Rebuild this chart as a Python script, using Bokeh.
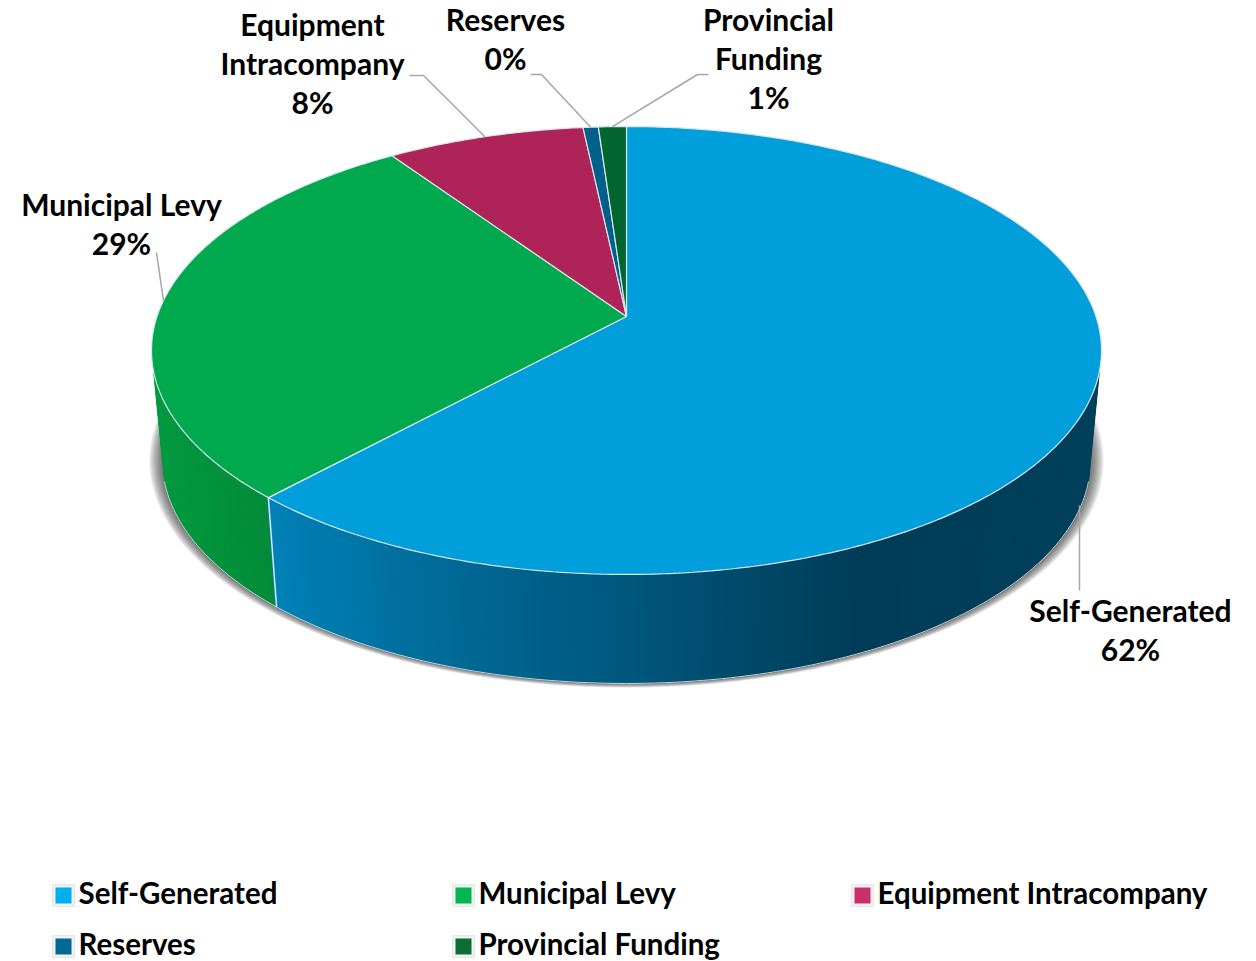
import math
from bokeh.plotting import figure
from bokeh.models import Range1d, ColumnDataSource
from bokeh.core.properties import value
from bokeh.embed import file_html
from bokeh.resources import INLINE

categories = ["Self-Generated", "Municipal Levy", "Equipment Intracompany", "Reserves", "Provincial Funding"]
shares = [61.85, 28.65, 7.8, 0.6, 1.1]
percent_labels = ["62%", "29%", "8%", "0%", "1%"]
label_lines = [["Self-Generated"], ["Municipal Levy"], ["Equipment", "Intracompany"], ["Reserves"], ["Provincial", "Funding"]]

top_colors = ["#009edb", "#00a94e", "#ae2459", "#00608a", "#026530"]
legend_colors = ["#00adef", "#00b74f", "#c7306a", "#006a94", "#0a6e38"]

W, H = 1256, 961
OX, OY = 0, 0
FONT = "Lato"
FS = "30px"

CX, AY = 626.0, 316.0
A, B, K = 469.5, 218.8, -0.1518
BOT_SX, BOT_SY, BOT_Y = 0.977, 0.995, 426.3


def rim(t, bottom=False):
    """t in degrees clockwise from the top of the pie; perspective projected rim."""
    r = math.radians(t)
    u, v = math.sin(r), -math.cos(r)
    d = 1 + K * v
    x, y = A * u / d, B * v / d
    if bottom:
        return CX + x * BOT_SX, BOT_Y + y * BOT_SY
    return CX + x, AY + y


def lerp_color(stops, x):
    if x <= stops[0][0]:
        return stops[0][1]
    for (x0, c0), (x1, c1) in zip(stops, stops[1:]):
        if x <= x1:
            f = (x - x0) / (x1 - x0)
            a = [int(c0[i:i + 2], 16) for i in (1, 3, 5)]
            b = [int(c1[i:i + 2], 16) for i in (1, 3, 5)]
            return "#%02x%02x%02x" % tuple(round(p + (q - p) * f) for p, q in zip(a, b))
    return stops[-1][1]


BLUE_STOPS = [(270, "#0081b8"), (420, "#006d9c"), (620, "#00577d"), (860, "#003c58"), (1100, "#003f5a")]
GREEN_STOPS = [(155, "#029a40"), (275, "#038a38")]

p = figure(width=W, height=H, x_range=Range1d(OX, OX + W), y_range=Range1d(OY + H, OY),
           output_backend="svg", toolbar_location=None, min_border=0)
p.axis.visible = False
p.grid.visible = False
p.outline_line_color = None

# cumulative angles
edges = [0.0]
for s in shares:
    edges.append(edges[-1] + s * 3.6)

# soft shadow under the side wall
for d in range(1, 13):
    xs, ys = [], []
    for i in range(0, 361, 2):
        x, y = rim(i, True)
        xs.append(CX + (x - CX) * (1 + d * 1.1 / 464))
        ys.append(BOT_Y + 34 + (y - BOT_Y - 34) * (1 + d * 0.35 / 223))
    p.patch(xs, ys, fill_color="#303030", fill_alpha=0.08, line_color=None)

# side wall, as narrow strips shaded by horizontal position
T_R, T_L = 104.0, 256.0
step = 1.0
wx, wy, wc = [], [], []
t = T_R
while t < T_L:
    t2 = min(t + step, T_L)
    tx1, ty1 = rim(t)
    tx2, ty2 = rim(t2)
    bx1, by1 = rim(t, True)
    bx2, by2 = rim(t2, True)
    mid = (t + t2) / 2
    xm = (tx1 + tx2 + bx1 + bx2) / 4
    col = lerp_color(BLUE_STOPS, xm) if mid < edges[1] else lerp_color(GREEN_STOPS, xm)
    wx.append([tx1, tx2, bx2, bx1])
    wy.append([ty1, ty2, by2, by1])
    wc.append(col)
    t = t2
p.patches("x", "y", source=ColumnDataSource(dict(x=wx, y=wy, c=wc)), fill_color="c", line_color="c", line_width=1)

# light edge along the bottom of the wall and the boundary between the walls
bpts = [rim(T_R + i * (T_L - T_R) / 150, True) for i in range(151)]
p.line([a for a, _ in bpts], [b for _, b in bpts], line_color="#c9d3d8", line_width=1)
s0 = rim(edges[1])
s1 = rim(edges[1], True)
p.line([s0[0], s1[0]], [s0[1], s1[1]], line_color="#d9e6ec", line_width=1.5)

# top face
fx, fy = [], []
for a0, a1 in zip(edges, edges[1:]):
    n = max(2, int((a1 - a0) * 2))
    pts = [rim(a0 + (a1 - a0) * i / n) for i in range(n + 1)]
    fx.append([CX] + [q[0] for q in pts])
    fy.append([AY] + [q[1] for q in pts])
p.patches("x", "y", source=ColumnDataSource(dict(x=fx, y=fy, c=top_colors)),
          fill_color="c", line_color="#d8e6ec", line_width=1.2)

# leader lines: from the rim at each slice's mid angle to its label
mids = [(a0 + a1) / 2 for a0, a1 in zip(edges, edges[1:])]
elbows = [
    [(1079, 590)],
    [(156, 252)],
    [(423, 75), (409, 75)],
    [(541, 74), (530, 74)],
    [(697, 74), (708, 74)],
]
starts = [(1079, 505), rim(mids[1]), rim(mids[2]), rim(mids[3]), rim(mids[4])]
for st, el in zip(starts, elbows):
    pts = [st] + el
    p.line([q[0] for q in pts], [q[1] for q in pts], line_color="#a6a6a6", line_width=1.5)

# labels: (centre x, y of first line)
label_pos = [(1130, 609), (121, 203), (312, 23), (505, 18), (768, 18)]
LINE = 39
tx, ty, tt = [], [], []
for lines, pct, (lx, ly) in zip(label_lines, percent_labels, label_pos):
    for i, s in enumerate(lines + [pct]):
        tx.append(lx)
        ty.append(ly + i * LINE)
        tt.append(s)
p.text(tx, ty, text=tt, text_font=value(FONT), text_font_style="bold", text_font_size=FS,
       text_align="center", text_baseline="middle", text_color="#000000")

# legend
leg_pos = [(52, 895), (452, 895), (851, 895), (52, 946), (452, 946)]
for (lx, ly), c, name in zip(leg_pos, legend_colors, categories):
    p.rect([lx + 11], [ly], width=22, height=22, fill_color="#f1f1f1", line_color="#e6e6e6", line_width=1)
    p.rect([lx + 11], [ly], width=16, height=16, fill_color=c, line_color=None)
    p.text([lx + 26], [ly - 3], text=[name], text_font=value(FONT), text_font_style="bold", text_font_size="29.5px",
           text_align="left", text_baseline="middle", text_color="#000000")

open("out.html", "w").write(file_html(p, INLINE))
